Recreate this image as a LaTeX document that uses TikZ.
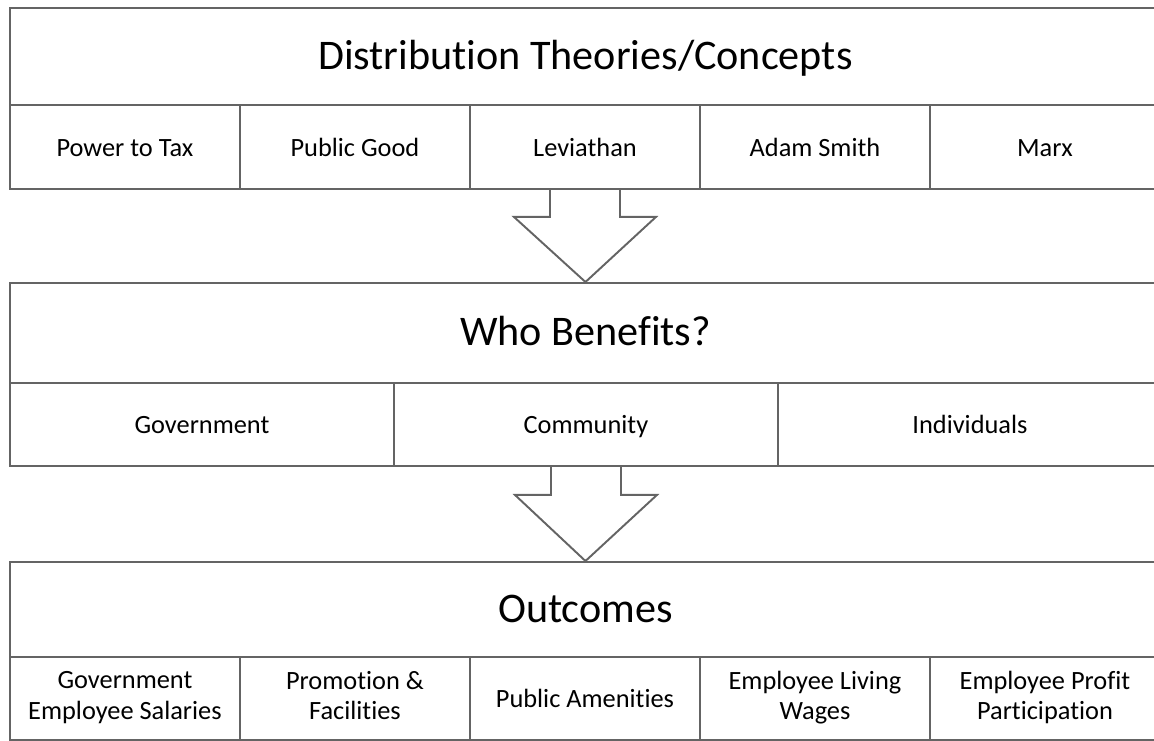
\documentclass[tikz,border=0pt]{standalone}
\usepackage{fontspec}
\setmainfont{Carlito}[Ligatures=NoCommon]
\usetikzlibrary{calc}
\newcommand\cellstrut{\vrule height .8\baselineskip depth .2\baselineskip width 0pt}

\begin{document}
\begin{tikzpicture}[line join=miter,
  cell/.style={draw=rule,line width=1.1pt,anchor=north west,inner sep=0pt,
    minimum width=4.6cm,minimum height=1.68cm,align=center,
    font=\fontsize{15}{17.5}\selectfont,
    execute at begin node=\cellstrut,execute at end node=\cellstrut},
  head/.style={cell,minimum width=23.02cm,font=\fontsize{24}{24}\selectfont},
  flow/.style={draw=rule,line width=1.1pt}]
  \definecolor{rule}{RGB}{100,100,100}
  \useasboundingbox (0,0) rectangle (23.08,-14.8);

  % ---- theories ----
  \node[head,minimum height=1.94cm] (theory) at (0.18,-0.14) {Distribution Theories/Concepts};
  \foreach \txt [count=\i] in {Power to Tax,Public Good,Leviathan,Adam Smith,Marx}
    \node[cell] (t\i) at ({0.18+4.6*(\i-1)},-2.08) {\txt};

  % ---- who benefits ----
  \node[head,minimum height=2.0cm] (who) at (0.18,-5.64) {Who Benefits?};
  \foreach \txt [count=\i] in {Government,Community,Individuals}
    \node[cell,minimum width=7.68cm,minimum height=1.66cm] (b\i) at ({0.18+7.68*(\i-1)},-7.64) {\txt};

  % ---- outcomes ----
  \node[head,minimum height=1.9cm] (out) at (0.18,-11.22) {Outcomes};
  \foreach \txt [count=\i] in {Government\\Employee Salaries,Promotion \&\\Facilities,Public Amenities,Employee Living\\Wages,Employee Profit\\Participation}
    \node[cell,minimum height=1.66cm] (o\i) at ({0.18+4.6*(\i-1)},-13.12) {\txt};

  % block arrows between the panels
  \draw[flow] ($(t3.south)+(-0.7,0)$) -- ++(0,-0.54) -- ++(-0.72,0)
    -- (who.north) -- ($(t3.south)+(1.42,-0.54)$) -- ++(-0.72,0) -- ++(0,0.54);
  \draw[flow] ($(b2.south)+(-0.7,0)$) -- ++(0,-0.56) -- ++(-0.72,0)
    -- (out.north) -- ($(b2.south)+(1.42,-0.56)$) -- ++(-0.72,0) -- ++(0,0.56);
\end{tikzpicture}
\end{document}
